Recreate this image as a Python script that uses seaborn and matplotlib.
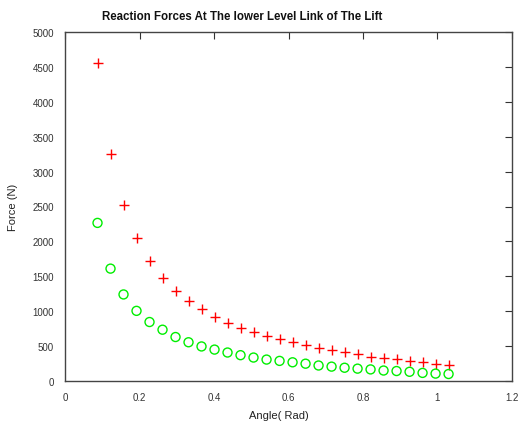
import numpy as np
import pandas as pd
import matplotlib
matplotlib.use("Agg")
import matplotlib.pyplot as plt
import seaborn as sns

# angle in radians (5 deg to 59 deg, 2 deg steps)
angle = [0.0873, 0.1222, 0.1571, 0.1920, 0.2269, 0.2618, 0.2967, 0.3316,
         0.3665, 0.4014, 0.4363, 0.4712, 0.5061, 0.5411, 0.5760, 0.6109,
         0.6458, 0.6807, 0.7156, 0.7505, 0.7854, 0.8203, 0.8552, 0.8901,
         0.9250, 0.9599, 0.9948, 1.0297]
force_red = [4560, 3245, 2515, 2045, 1715, 1475, 1285, 1140, 1025, 920,
             835, 765, 705, 645, 598, 560, 510, 470, 440, 412,
             380, 350, 328, 312, 290, 270, 250, 228]
force_green = [2265, 1610, 1240, 1005, 845, 735, 630, 555, 495, 450,
               408, 370, 336, 307, 288, 268, 248, 222, 206, 190,
               177, 166, 150, 143, 132, 116, 106, 100]

sns.set_theme(style="white")
plt.rcParams['font.family'] = ['Liberation Sans', 'DejaVu Sans']

fig = plt.figure(figsize=(5.18, 4.27), dpi=100)
ax = fig.add_axes([65/518, 1-382/427, (512-65)/518, (382-33)/427])

df = pd.DataFrame({'angle': angle, 'red': force_red, 'green': force_green})

sns.scatterplot(data=df, x='angle', y='red', marker='+', s=55, color='#ff0000',
                linewidth=1.0, ax=ax)
ax.scatter(df['angle'], df['green'], marker='o', s=42, facecolors='none',
           edgecolors='#00ee00', linewidths=1.0)

ax.set_xlim(0, 1.2)
ax.set_ylim(0, 5000)
ax.set_xticks(np.arange(0, 1.21, 0.2))
ax.set_xticklabels(['0', '0.2', '0.4', '0.6', '0.8', '1', '1.2'])
ax.set_yticks(np.arange(0, 5001, 500))
ax.tick_params(direction='in', length=5, width=0.8, colors='#333333',
               labelsize=7, labelcolor='#333333', top=True, right=True, pad=8)
for sp in ax.spines.values():
    sp.set_color('#444444')
    sp.set_linewidth(1.0)

ax.set_xlabel("Angle( Rad)", fontsize=8, color='#222222')
ax.set_ylabel("Force (N)", fontsize=8, color='#222222')
ax.xaxis.set_label_coords((279-65)/(512-65), -(411-382)/(382-33))
ax.yaxis.set_label_coords(-(65-18)/(512-65), 0.5)
fig.text(242/518, 1-17/427, "Reaction Forces At The lower Level Link of The Lift",
         ha='center', va='center', fontsize=8.3, fontweight='bold', color='#111111')

fig.savefig("out.png", dpi=100, facecolor='white')
plt.close(fig)
